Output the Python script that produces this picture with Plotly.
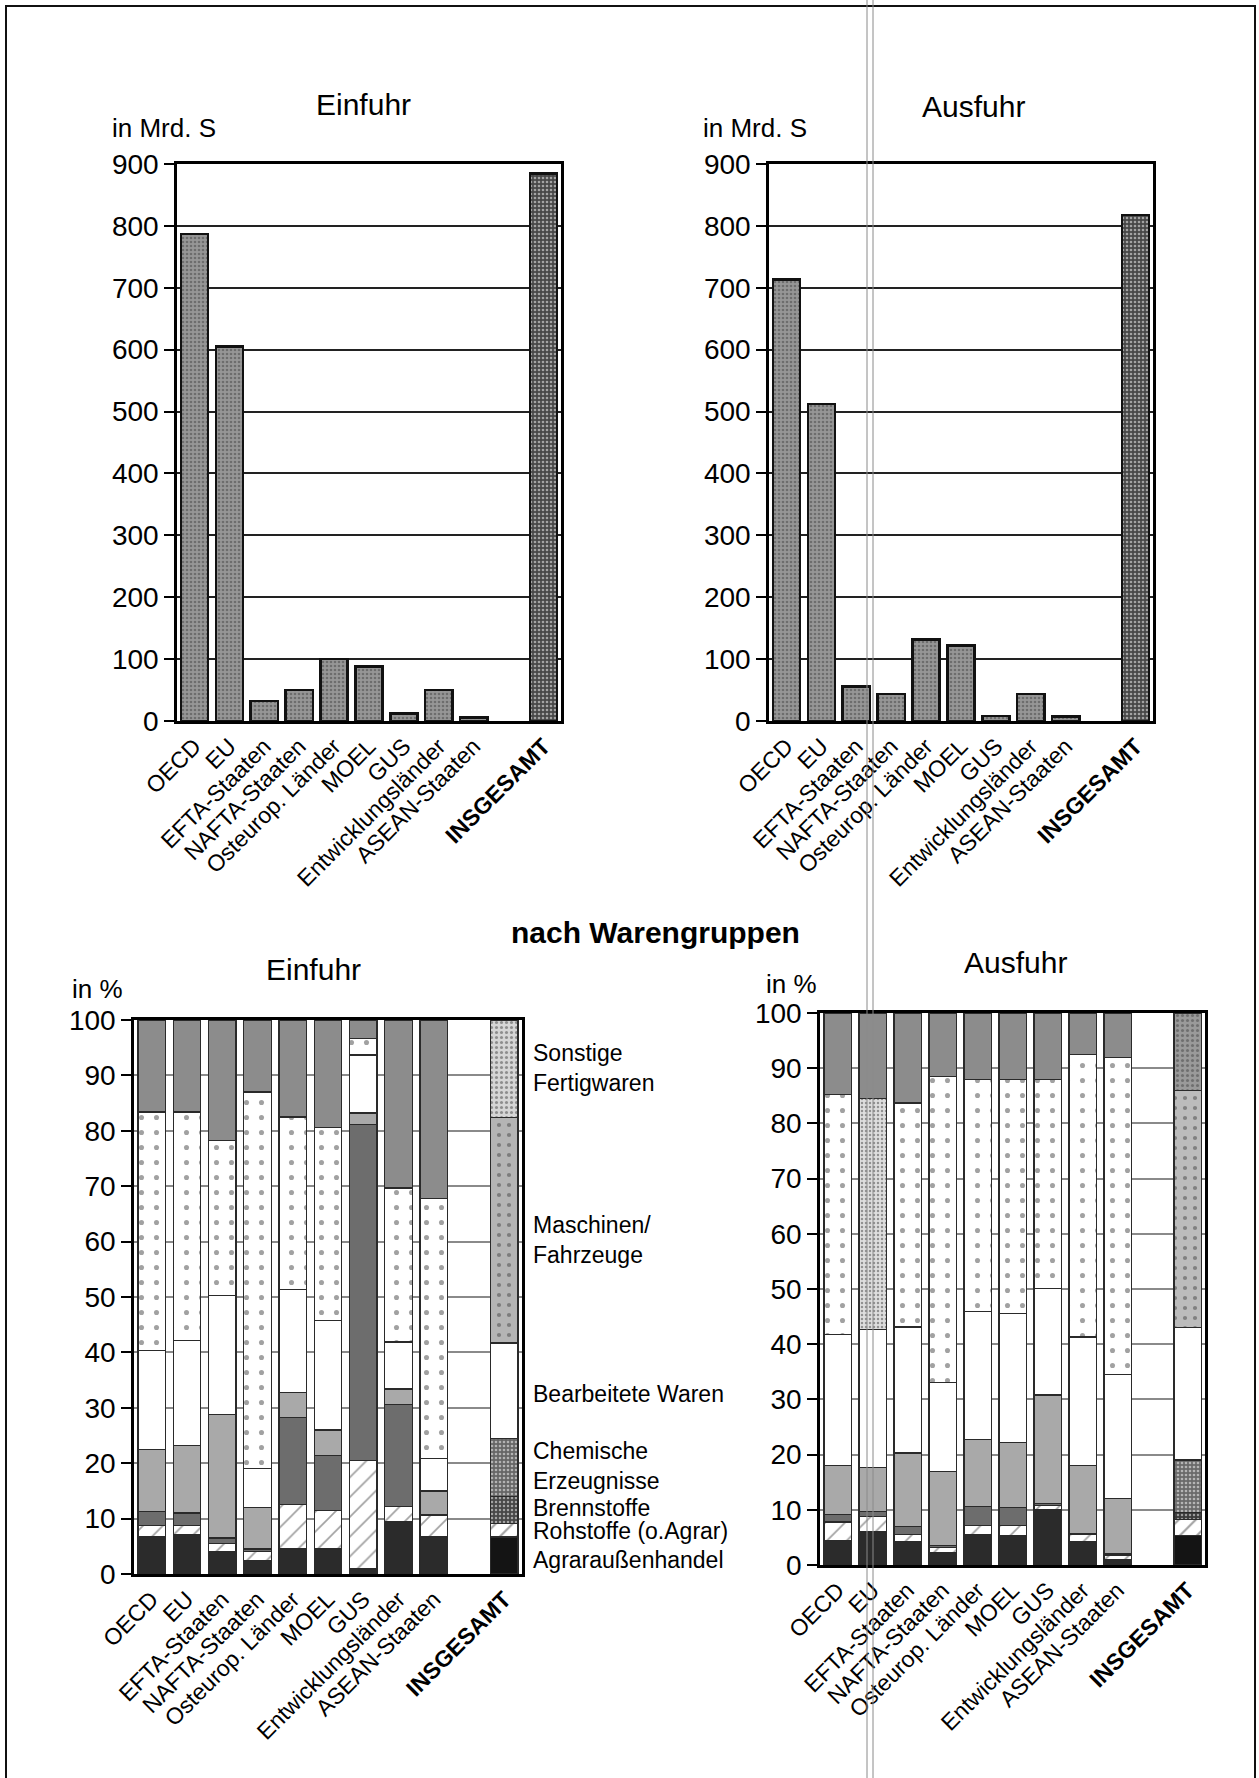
import plotly.graph_objects as go

W, H = 1259, 1778

categories = ["OECD", "EU", "EFTA-Staaten", "NAFTA-Staaten", "Osteurop. Länder", "MOEL",
              "GUS", "Entwicklungsländer", "ASEAN-Staaten", " ", "<b>INSGESAMT</b>"]

# in Mrd. S
einfuhr_mrd = [787, 605, 32, 50, 100, 88, 12, 50, 6, None, 885]
ausfuhr_mrd = [713, 512, 56, 44, 132, 122, 8, 44, 7, None, 818]

groups = ["Agraraußenhandel", "Rohstoffe (o.Agrar)", "Brennstoffe", "Chemische Erzeugnisse",
          "Bearbeitete Waren", "Maschinen/Fahrzeuge", "Sonstige Fertigwaren"]

# Einfuhr nach Warengruppen, in %
ein_agrar = [6.7, 7.1, 4.0, 2.5, 4.5, 4.5, 1.0, 9.4, 6.7, None, 6.7]
ein_rohst = [2.0, 1.7, 1.5, 1.5, 8.1, 6.9, 19.5, 2.8, 3.8, None, 2.4]
ein_brenn = [2.6, 2.2, 1.0, 0.5, 15.7, 10.0, 60.6, 18.4, 0.2, None, 4.9]
ein_chem = [11.2, 12.2, 22.3, 7.5, 4.5, 4.6, 2.1, 2.8, 4.3, None, 10.5]
ein_bearb = [17.9, 19.0, 21.5, 7.0, 18.6, 19.8, 10.5, 8.5, 5.8, None, 17.2]
ein_masch = [43.0, 41.2, 27.9, 68.0, 31.1, 34.8, 3.0, 27.8, 47.0, None, 40.7]
ein_sonst = [16.6, 16.6, 21.8, 13.0, 17.5, 19.4, 3.3, 30.3, 32.2, None, 17.6]

# Ausfuhr nach Warengruppen, in %
aus_agrar = [4.5, 6.0, 4.3, 2.2, 5.5, 5.3, 10.0, 4.2, 1.0, None, 5.3]
aus_rohst = [3.3, 2.8, 1.2, 1.0, 1.7, 1.9, 0.8, 1.3, 0.8, None, 3.0]
aus_brenn = [1.3, 0.9, 1.5, 0.3, 3.4, 3.2, 0.4, 0.1, 0.2, None, 1.2]
aus_chem = [8.9, 8.0, 13.3, 13.5, 12.1, 11.8, 19.6, 12.4, 10.0, None, 9.5]
aus_bearb = [23.8, 25.0, 22.8, 16.0, 23.2, 23.4, 19.3, 23.3, 22.5, None, 24.0]
aus_masch = [43.4, 41.8, 40.6, 55.5, 42.0, 42.3, 37.8, 51.2, 57.5, None, 43.0]
aus_sonst = [14.8, 15.5, 16.3, 11.5, 12.1, 12.1, 12.1, 7.5, 8.0, None, 14.0]

FONT = "Liberation Sans, Arial, Helvetica, sans-serif"
N = len(categories)


def px_x(p):
    return p / W


def px_y(p):
    return 1 - p / H


fig = go.Figure()

# ---------- top bar charts ----------
top_bg = ["#969696"] * (N - 1) + ["#474747"]
top_fg = ["#222222"] * (N - 1) + ["#0c0c0c"]
for vals, xa, ya in [(einfuhr_mrd, "x", "y"), (ausfuhr_mrd, "x2", "y2")]:
    fig.add_trace(go.Bar(
        x=categories, y=vals, xaxis=xa, yaxis=ya, showlegend=False,
        marker=dict(color=top_bg, line=dict(color="#111", width=2.5),
                    pattern=dict(shape=".", fillmode="overlay", fgcolor=top_fg,
                                 size=4, solidity=0.35)),
        hoverinfo="x+y"))


# ---------- bottom stacked charts ----------
def series_style(kind, total_style):
    """marker settings for the 11 points; the last one (INSGESAMT) gets total_style"""
    base = {
        "agrar": ("#2b2b2b", "", "#000", 8, 0.2),
        "rohst": ("#ffffff", "/", "#4a4a4a", 14, 0.12),
        "brenn": ("#6d6d6d", "", "#000", 8, 0.2),
        "chem": ("#a9a9a9", "", "#000", 8, 0.2),
        "bearb": ("#ffffff", "", "#000", 8, 0.2),
        "masch": ("#ffffff", ".", "#6e6e6e", 15, 0.09),
        "sonst": ("#8c8c8c", "", "#000", 8, 0.2),
    }[kind]
    cols = [base[0]] * N
    shapes = [base[1]] * N
    fgs = [base[2]] * N
    sizes = [base[3]] * N
    sols = [base[4]] * N
    c, s, f, z, o = total_style
    cols[-1], shapes[-1], fgs[-1], sizes[-1], sols[-1] = c, s, f, z, o
    return cols, shapes, fgs, sizes, sols


ein_total_styles = {
    "agrar": ("#141414", "", "#000", 8, 0.2),
    "rohst": ("#ffffff", "/", "#222", 12, 0.18),
    "brenn": ("#474747", ".", "#111", 4, 0.3),
    "chem": ("#666666", ".", "#111", 4, 0.35),
    "bearb": ("#ffffff", "", "#000", 8, 0.2),
    "masch": ("#b4b4b4", ".", "#111", 10, 0.14),
    "sonst": ("#d6d6d6", ".", "#444", 5, 0.3),
}
aus_total_styles = {
    "agrar": ("#141414", "", "#000", 8, 0.2),
    "rohst": ("#ffffff", "/", "#222", 12, 0.18),
    "brenn": ("#3a3a3a", ".", "#111", 4, 0.3),
    "chem": ("#6a6a6a", ".", "#111", 4, 0.35),
    "bearb": ("#ffffff", "", "#000", 8, 0.2),
    "masch": ("#bcbcbc", ".", "#111", 10, 0.14),
    "sonst": ("#9a9a9a", ".", "#333", 5, 0.3),
}

kinds = ["agrar", "rohst", "brenn", "chem", "bearb", "masch", "sonst"]
ein_series = [ein_agrar, ein_rohst, ein_brenn, ein_chem, ein_bearb, ein_masch, ein_sonst]
aus_series = [aus_agrar, aus_rohst, aus_brenn, aus_chem, aus_bearb, aus_masch, aus_sonst]

for series, totals, xa, ya in [(ein_series, ein_total_styles, "x3", "y3"),
                               (aus_series, aus_total_styles, "x4", "y4")]:
    for name, kind, vals in zip(groups, kinds, series):
        cols, shapes, fgs, sizes, sols = series_style(kind, totals[kind])
        if xa == "x4" and kind == "masch":
            # EU exports: finer grey speckle
            cols[1], shapes[1], fgs[1], sizes[1], sols[1] = "#dedede", ".", "#777", 4, 0.3
        fig.add_trace(go.Bar(
            x=categories, y=vals, name=name, xaxis=xa, yaxis=ya, showlegend=False,
            marker=dict(color=cols, line=dict(color="#2a2a2a", width=1.3),
                        pattern=dict(shape=shapes, fillmode="overlay", fgcolor=fgs,
                                     size=sizes, solidity=sols)),
            hovertemplate="%{x}<br>" + name + ": %{y}%<extra></extra>"))

# ---------- axes ----------
xcommon = dict(type="category", categoryorder="array", categoryarray=categories,
               tickangle=-45, tickfont=dict(family=FONT, size=23, color="#000"),
               showline=True, linecolor="#000", linewidth=2.5, mirror=True,
               ticks="", showgrid=False, automargin=False, fixedrange=True)
ytop = dict(range=[0, 900], dtick=100, tickfont=dict(family=FONT, size=28, color="#000"),
            showline=True, linecolor="#000", linewidth=2.5, mirror=True,
            ticks="outside", ticklen=10, tickwidth=2, tickcolor="#000",
            showgrid=True, gridcolor="#222", gridwidth=1.5, zeroline=False,
            automargin=False, fixedrange=True)
ybot = dict(range=[0, 100], dtick=10, tickfont=dict(family=FONT, size=28, color="#000"),
            showline=True, linecolor="#000", linewidth=2.5, mirror=True,
            ticks="outside", ticklen=10, tickwidth=2, tickcolor="#000",
            showgrid=True, gridcolor="#8a8a8a", gridwidth=1.5, zeroline=False,
            automargin=False, fixedrange=True)

fig.update_layout(
    xaxis=dict(xcommon, domain=[px_x(177), px_x(561)], anchor="y"),
    yaxis=dict(ytop, domain=[px_y(721), px_y(164)], anchor="x"),
    xaxis2=dict(xcommon, domain=[px_x(769), px_x(1153)], anchor="y2"),
    yaxis2=dict(ytop, domain=[px_y(721), px_y(164)], anchor="x2"),
    xaxis3=dict(xcommon, domain=[px_x(134), px_x(522)], anchor="y3"),
    yaxis3=dict(ybot, domain=[px_y(1574), px_y(1020)], anchor="x3"),
    xaxis4=dict(xcommon, domain=[px_x(820), px_x(1205)], anchor="y4"),
    yaxis4=dict(ybot, domain=[px_y(1565), px_y(1013)], anchor="x4"),
    barmode="stack",
    bargap=0.22,
    width=W, height=H,
    margin=dict(l=0, r=0, t=0, b=0),
    paper_bgcolor="white", plot_bgcolor="white",
    font=dict(family=FONT, color="#000"),
)


def label(text, x, y, size, xanchor="center", bold=False, yanchor="middle"):
    fig.add_annotation(text=("<b>%s</b>" % text) if bold else text,
                       x=px_x(x), y=px_y(y), xref="paper", yref="paper",
                       xanchor=xanchor, yanchor=yanchor, showarrow=False, align="left",
                       font=dict(family=FONT, size=size, color="#000"))


label("Einfuhr", 363, 104, 30)
label("Ausfuhr", 973, 107, 30)
label("in Mrd. S", 110, 128, 26, xanchor="left")
label("in Mrd. S", 701, 128, 26, xanchor="left")
label("nach Warengruppen", 655, 932, 30, bold=True)
label("Einfuhr", 313, 970, 30)
label("Ausfuhr", 1015, 962, 30)
label("in %", 70, 989, 26, xanchor="left")
label("in %", 764, 984, 26, xanchor="left")

legend_labels = ["Sonstige<br>Fertigwaren", "Maschinen/<br>Fahrzeuge", "Bearbeitete Waren",
                 "Chemische<br>Erzeugnisse", "Brennstoffe", "Rohstoffe (o.Agrar)", "Agraraußenhandel"]
legend_y = [1068, 1240, 1394, 1466, 1508, 1531, 1560]
for t, yy in zip(legend_labels, legend_y):
    label(t, 531, yy, 23, xanchor="left")

# page frame and scan line
fig.add_shape(type="rect", xref="paper", yref="paper", x0=px_x(6), x1=px_x(1255),
              y0=-0.02, y1=px_y(6), line=dict(color="#111", width=2))
for xx in (867, 873):
    fig.add_shape(type="line", xref="paper", yref="paper", x0=px_x(xx), x1=px_x(xx),
                  y0=0, y1=1, line=dict(color="#8a8a8a", width=1))

fig.write_html("out.html", config={"displayModeBar": False},
               post_script="document.body.style.margin='0';document.body.style.overflow='hidden';")
